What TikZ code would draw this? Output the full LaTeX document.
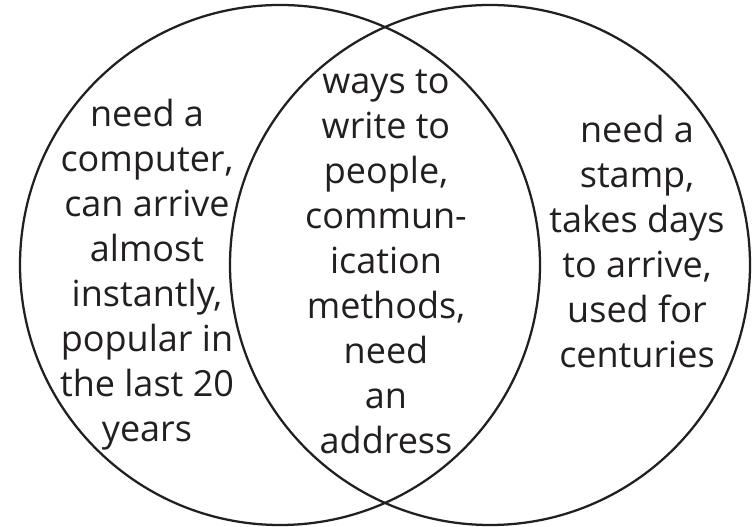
\documentclass[tikz,border=0pt]{standalone}
\usepackage{fontspec}
\setmainfont{Open Sans}
\definecolor{ink}{HTML}{231F20}
\tikzset{
  venn/.style={draw=ink, line width=1.7pt},
  label/.style={align=center, text=ink, inner sep=0pt,
    font=\fontsize{27}{33.8}\selectfont}
}
\begin{document}
\begin{tikzpicture}[x=0.75pt, y=-0.75pt]
\useasboundingbox (0,0) rectangle (754,527);
\draw[venn] (280,265) circle[radius=260];
\draw[venn] (490,265) circle[radius=260];
\node[label] (left) at (147,274.6) {need a\\computer,\\can arrive\\almost\\instantly,\\popular in\\the last 20\\years};
\node[label] (mid) at (386,262) {ways to\\write to\\people,\\commun-\\ication\\methods,\\need\\an\\address};
\node[label] (right) at (637,241.3) {need a\\stamp,\\takes days\\to arrive,\\used for\\centuries};
\end{tikzpicture}
\end{document}
